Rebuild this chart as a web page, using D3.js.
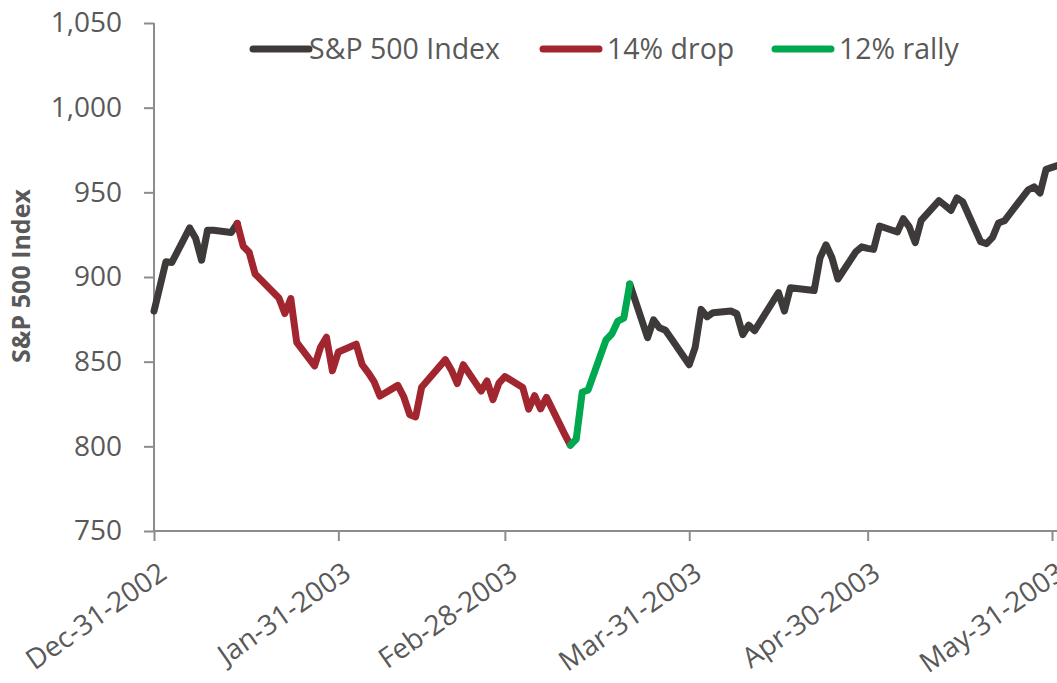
<!DOCTYPE html>
<html>
<head>
	<title>S&amp;P 500 Index, Dec 2002 - May 2003</title>
	<style>
		body { margin: 0; background: #fff; }
		#chart { width: 1057px; height: 683px; overflow: hidden; }
		text { font-family: "Open Sans", sans-serif; fill: #595959; }
	</style>
</head>
<body>
	<div id="chart"></div>
	<script src="https://cdn.jsdelivr.net/npm/d3@7/dist/d3.min.js"></script>
	<script>
		// daily closes
		const dates = [
			'2002-12-31',
			'2003-01-02', '2003-01-03', '2003-01-06', '2003-01-07', '2003-01-08', '2003-01-09', '2003-01-10',
			'2003-01-13', '2003-01-14', '2003-01-15', '2003-01-16', '2003-01-17', '2003-01-21', '2003-01-22',
			'2003-01-23', '2003-01-24', '2003-01-27', '2003-01-28', '2003-01-29', '2003-01-30', '2003-01-31',
			'2003-02-03', '2003-02-04', '2003-02-05', '2003-02-06', '2003-02-07', '2003-02-10', '2003-02-11',
			'2003-02-12', '2003-02-13', '2003-02-14', '2003-02-18', '2003-02-19', '2003-02-20', '2003-02-21',
			'2003-02-24', '2003-02-25', '2003-02-26', '2003-02-27', '2003-02-28',
			'2003-03-03', '2003-03-04', '2003-03-05', '2003-03-06', '2003-03-07', '2003-03-10', '2003-03-11',
			'2003-03-12', '2003-03-13', '2003-03-14', '2003-03-17', '2003-03-18', '2003-03-19', '2003-03-20',
			'2003-03-21', '2003-03-24', '2003-03-25', '2003-03-26', '2003-03-27', '2003-03-28', '2003-03-31',
			'2003-04-01', '2003-04-02', '2003-04-03', '2003-04-04', '2003-04-07', '2003-04-08', '2003-04-09',
			'2003-04-10', '2003-04-11', '2003-04-14', '2003-04-15', '2003-04-16', '2003-04-17', '2003-04-21',
			'2003-04-22', '2003-04-23', '2003-04-24', '2003-04-25', '2003-04-28', '2003-04-29', '2003-04-30',
			'2003-05-01', '2003-05-02', '2003-05-05', '2003-05-06', '2003-05-07', '2003-05-08', '2003-05-09',
			'2003-05-12', '2003-05-13', '2003-05-14', '2003-05-15', '2003-05-16', '2003-05-19', '2003-05-20',
			'2003-05-21', '2003-05-22', '2003-05-23', '2003-05-27', '2003-05-28', '2003-05-29', '2003-05-30',
			'2003-06-02'
		];
		const closes = [
			879.8,
			909.0, 908.6, 929.0, 922.9, 909.9, 927.6, 927.6,
			926.3, 931.7, 918.2, 914.6, 901.8, 887.6, 878.4,
			887.3, 861.4, 847.5, 858.5, 864.4, 844.6, 855.7,
			860.3, 848.2, 843.6, 838.2, 829.7, 836.0, 829.2,
			818.7, 817.4, 834.9, 851.2, 845.1, 837.1, 848.2,
			832.6, 838.6, 827.6, 837.3, 841.2,
			834.8, 822.0, 829.9, 822.1, 828.9, 807.5, 800.7,
			804.2, 831.9, 833.3, 862.8, 866.5, 874.0, 875.7,
			895.8, 864.2, 874.7, 870.0, 868.5, 863.5, 848.2,
			858.5, 880.9, 876.5, 878.9, 879.9, 878.3, 866.0,
			871.6, 868.3, 885.2, 890.8, 879.9, 893.6, 892.0,
			911.4, 919.0, 911.4, 898.8, 914.8, 917.8, 916.9,
			916.3, 930.1, 926.6, 934.4, 929.6, 920.3, 933.4,
			945.1, 942.3, 939.3, 946.7, 944.3, 920.8, 919.7,
			923.4, 931.9, 933.2, 951.5, 953.2, 949.6, 963.6,
			967.0
		];

		// segments: 14% drop from Jan-14 to Mar-11, then 12% rally to Mar-21
		const seriesNames = ['S&P 500 Index', '14% drop', '12% rally'];
		const seriesColors = ['#3e3a39', '#a2262f', '#00a94f'];
		const dropStart = '2003-01-14', dropEnd = '2003-03-11', rallyEnd = '2003-03-21';

		const yTicks = [750, 800, 850, 900, 950, 1000, 1050];
		const xTicks = ['2002-12-31', '2003-01-31', '2003-02-28', '2003-03-31', '2003-04-30', '2003-05-31'];

		const margin = { top: 23, right: 5, bottom: 152, left: 154 };
		const W = 1057, H = 683;
		const width = 1052 - margin.left;
		const height = H - margin.top - margin.bottom;

		const parse = d3.timeParse('%Y-%m-%d');
		const fmt = d3.timeFormat('%b-%d-%Y');
		const data = dates.map((d, i) => ({ date: parse(d), value: closes[i] }));

		const x = d3.scaleTime()
			.domain([parse('2002-12-31'), parse('2003-05-31')])
			.range([0, width]);
		const y = d3.scaleLinear()
			.domain([750, 1050])
			.range([height, 0]);

		const svg = d3.select('#chart')
			.append('svg')
			.attr('width', W)
			.attr('height', H)
			.append('g')
			.attr('transform', `translate(${margin.left},${margin.top})`);

		// axes
		const yAxis = svg.append('g')
			.call(d3.axisLeft(y).tickValues(yTicks).tickSize(10).tickPadding(22).tickFormat(d3.format(',')));
		const xAxis = svg.append('g')
			.attr('transform', `translate(0,${height})`)
			.call(d3.axisBottom(x).tickValues(xTicks.map(parse)).tickSize(10).tickFormat(fmt));

		[yAxis, xAxis].forEach(a => {
			a.select('.domain').attr('stroke', '#8c8c8c').attr('stroke-width', 2);
			a.selectAll('.tick line').attr('stroke', '#8c8c8c').attr('stroke-width', 2);
			a.selectAll('text').style('font-size', '28px').attr('fill', '#595959');
		});
		yAxis.select('.domain').attr('d', `M0,0V${height}`);
		xAxis.select('.domain').attr('d', `M0,0H${W - margin.left}`);

		xAxis.selectAll('.tick text')
			.attr('text-anchor', 'end')
			.attr('dy', 0)
			.attr('y', 0)
			.attr('transform', 'translate(14,46) rotate(-35)');

		// y title
		svg.append('text')
			.attr('transform', `translate(${30 - margin.left},${276 - margin.top}) rotate(-90)`)
			.attr('text-anchor', 'middle')
			.style('font-size', '25px')
			.style('font-weight', 'bold')
			.attr('fill', '#404040')
			.text('S&P 500 Index');

		// line segments
		const line = d3.line().x(d => x(d.date)).y(d => y(d.value));
		const i0 = dates.indexOf(dropStart), i1 = dates.indexOf(dropEnd), i2 = dates.indexOf(rallyEnd);
		const segments = [
			{ pts: data.slice(0, i0 + 1), c: 0 },
			{ pts: data.slice(i2), c: 0 },
			{ pts: data.slice(i0, i1 + 1), c: 1 },
			{ pts: data.slice(i1, i2 + 1), c: 2 }
		];
		svg.selectAll('.seg')
			.data(segments)
			.enter()
			.append('path')
			.attr('class', 'seg')
			.attr('fill', 'none')
			.attr('stroke', d => seriesColors[d.c])
			.attr('stroke-width', 7)
			.attr('stroke-linejoin', 'round')
			.attr('stroke-linecap', 'round')
			.attr('d', d => line(d.pts));

		// legend
		const legendX = [253, 543, 775];
		const legend = svg.append('g')
			.attr('transform', `translate(${-margin.left},${-margin.top})`);
		seriesNames.forEach((name, i) => {
			legend.append('line')
				.attr('x1', legendX[i]).attr('x2', legendX[i] + 56)
				.attr('y1', 49).attr('y2', 49)
				.attr('stroke', seriesColors[i])
				.attr('stroke-width', 7)
				.attr('stroke-linecap', 'round');
			legend.append('text')
				.attr('x', legendX[i] + (i === 0 ? 56 : 64))
				.attr('y', 49)
				.attr('dy', '0.35em')
				.style('font-size', '28.5px')
				.text(name);
		});
	</script>
</body>
</html>
